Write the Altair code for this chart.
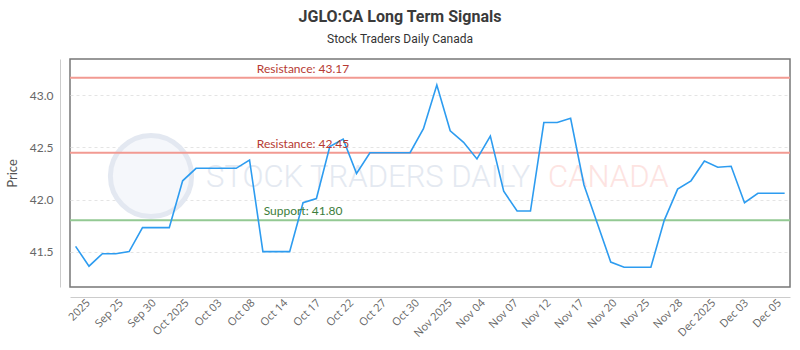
import altair as alt
import pandas as pd

# ---- data ----
dates = [
    "2025-09-22", "2025-09-23", "2025-09-24", "2025-09-25", "2025-09-26", "2025-09-29", "2025-09-30",
    "2025-10-01", "2025-10-02", "2025-10-03", "2025-10-06", "2025-10-07", "2025-10-08", "2025-10-09",
    "2025-10-10", "2025-10-14", "2025-10-15", "2025-10-16", "2025-10-17", "2025-10-20", "2025-10-21",
    "2025-10-22", "2025-10-23", "2025-10-24", "2025-10-27", "2025-10-28", "2025-10-29", "2025-10-30",
    "2025-10-31", "2025-11-03", "2025-11-04", "2025-11-05", "2025-11-06", "2025-11-07", "2025-11-10",
    "2025-11-11", "2025-11-12", "2025-11-13", "2025-11-14", "2025-11-17", "2025-11-18", "2025-11-19",
    "2025-11-20", "2025-11-21", "2025-11-24", "2025-11-25", "2025-11-26", "2025-11-27", "2025-11-28",
    "2025-12-01", "2025-12-02", "2025-12-03", "2025-12-04", "2025-12-05",
]
prices = [
    41.55, 41.36, 41.48, 41.48, 41.50, 41.73, 41.73, 41.73, 42.18, 42.30,
    42.30, 42.30, 42.30, 42.38, 41.50, 41.50, 41.50, 41.97, 42.01, 42.51,
    42.58, 42.25, 42.45, 42.45, 42.45, 42.45, 42.68, 43.10, 42.66, 42.55,
    42.39, 42.61, 42.08, 41.89, 41.89, 42.74, 42.74, 42.78, 42.14, 41.77,
    41.40, 41.35, 41.35, 41.35, 41.80, 42.10, 42.18, 42.37, 42.31, 42.32,
    41.97, 42.06, 42.06, 42.06,
]
tick_labels = [
    "2025", "Sep 25", "Sep 30", "Oct 2025", "Oct 03", "Oct 08", "Oct 14", "Oct 17",
    "Oct 22", "Oct 27", "Oct 30", "Nov 2025", "Nov 04", "Nov 07", "Nov 12", "Nov 17",
    "Nov 20", "Nov 25", "Nov 28", "Dec 2025", "Dec 03", "Dec 05",
]
level_values = [43.17, 42.45, 41.80]
level_labels = ["Resistance: 43.17", "Resistance: 42.45", "Support: 41.80"]
level_kinds = ["resistance", "resistance", "support"]
y_ticks = [41.5, 42.0, 42.5, 43.0]

# ---- tables ----
df = pd.DataFrame({"idx": list(range(len(prices))), "date": dates, "price": prices})

# label slots are evenly spaced along the index axis
tick_start, tick_step = 0.94, 2.46
tick_pos = [tick_start + tick_step * k for k in range(len(tick_labels))]
label_list = "[" + ",".join(f"'{l}'" for l in tick_labels) + "]"
label_expr = f"{label_list}[round((datum.value - {tick_start}) / {tick_step})]"

levels = pd.DataFrame({
    "value": level_values,
    "label": level_labels,
    "kind": level_kinds,
    "lx": [17] * len(level_values),
})

W, H = 720, 228
x_scale = alt.Scale(domain=[-0.42, 53.4], nice=False, zero=False)
y_scale = alt.Scale(domain=[41.16, 43.35], nice=False, zero=False)

x_axis = alt.Axis(
    values=tick_pos, labelExpr=label_expr, title=None, grid=False, ticks=False,
    labelAngle=-45, labelAlign="right", labelBaseline="middle",
    labelFont="Open Sans", labelFontSize=11, labelColor="#666666",
    domainColor="#cccccc", offset=10, labelPadding=4, labelOverlap=False,
)
y_axis = alt.Axis(
    values=y_ticks, format=".1f", title="Price", grid=True, gridDash=[3, 3],
    gridColor="#e4e4e4", ticks=False, labelFont="Lato", labelFontSize=12,
    labelColor="#666666", domainColor="#cccccc", offset=10, labelPadding=7,
    titleFont="Lato", titleFontSize=13, titleFontWeight="normal", titleColor="#555555",
    titlePadding=10, labelOverlap=False,
)

base = alt.Chart(df)

# watermark
wm_circle = alt.Chart(pd.DataFrame({"a": [0]})).mark_point(
    shape="circle", size=6600, filled=True, fill="#f5f7fb", stroke="#e3e8f1", strokeWidth=5, opacity=1
).encode(x=alt.value(81), y=alt.value(117))
wm_text1 = alt.Chart(pd.DataFrame({"t": ["STOCK TRADERS DAILY"]})).mark_text(
    align="left", baseline="middle", font="Roboto", fontWeight=300, fontSize=31, color="#e4e9f1"
).encode(x=alt.value(136), y=alt.value(119), text="t:N")
wm_text2 = alt.Chart(pd.DataFrame({"t": ["CANADA"]})).mark_text(
    align="left", baseline="middle", font="Roboto", fontWeight=300, fontSize=31, color="#fde3e1"
).encode(x=alt.value(478), y=alt.value(119), text="t:N")

line = base.mark_line(color="#2d9cf0", strokeWidth=1.6).encode(
    x=alt.X("idx:Q", scale=x_scale, axis=x_axis),
    y=alt.Y("price:Q", scale=y_scale, axis=y_axis),
)

color_scale = alt.Scale(domain=["resistance", "support"], range=["#f29a92", "#93c993"])
text_scale = alt.Scale(domain=["resistance", "support"], range=["#b73a33", "#3c7d3c"])

rules = alt.Chart(levels).mark_rule(strokeWidth=2).encode(
    y=alt.Y("value:Q", scale=y_scale, axis=y_axis),
    color=alt.Color("kind:N", scale=color_scale, legend=None),
)
labels = alt.Chart(levels).mark_text(
    align="center", baseline="bottom", dy=-2, font="Lato", fontSize=12
).encode(
    x=alt.X("lx:Q", scale=x_scale, axis=x_axis),
    y=alt.Y("value:Q", scale=y_scale, axis=y_axis),
    text="label:N",
    color=alt.Color("kind:N", scale=text_scale, legend=None),
)

chart = alt.layer(wm_circle, wm_text1, wm_text2, rules, line, labels).resolve_scale(
    color="independent"
).properties(
    width=W, height=H,
    title=alt.TitleParams(
        text="JGLO:CA Long Term Signals",
        subtitle="Stock Traders Daily Canada",
        anchor="middle", dx=-30, offset=14,
        font="Roboto", fontSize=16, fontWeight="bold", color="#3a3a3a",
        subtitleFont="Roboto", subtitleFontSize=12, subtitleColor="#333333",
        subtitlePadding=9,
    ),
    autosize=alt.AutoSizeParams(type="none"),
    padding={"left": 70, "top": 59, "right": 10, "bottom": 63},
).configure_view(stroke="#777777", strokeWidth=1.5).configure_axis(labelOverlap=False)

chart.save("out.html", embed_options={"renderer": "svg", "actions": False})
